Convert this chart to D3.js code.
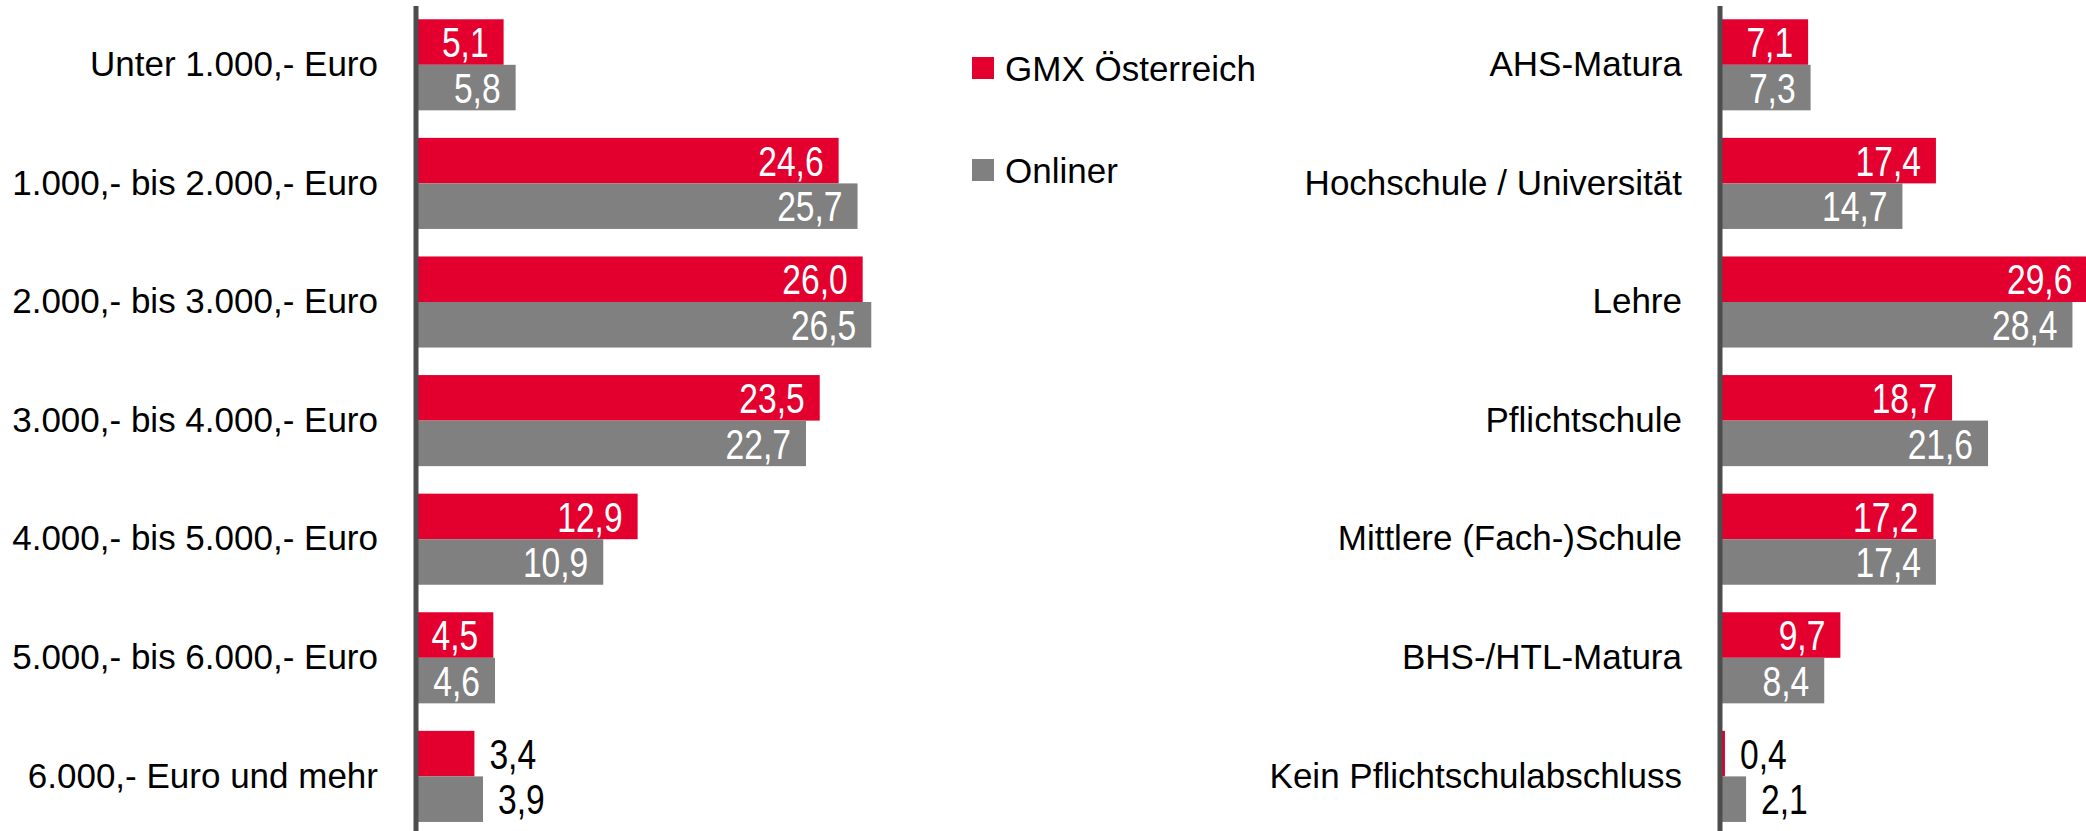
<!DOCTYPE html>
<html>
<head>
<meta charset="utf-8">
<script src="https://cdn.jsdelivr.net/npm/d3@7"></script>
<style>
    body { margin: 0; background: #fff; }
    svg { display: block; }
</style>
</head>
<body>
<div id="chart"></div>
<script>
// Series names and colours
const series = ['GMX Österreich', 'Onliner'];
const seriesColors = ['#E3002F', '#808080'];

// Left panel: net household income
const incomeCategories = [
    'Unter 1.000,- Euro',
    '1.000,- bis 2.000,- Euro',
    '2.000,- bis 3.000,- Euro',
    '3.000,- bis 4.000,- Euro',
    '4.000,- bis 5.000,- Euro',
    '5.000,- bis 6.000,- Euro',
    '6.000,- Euro und mehr'
];
const incomeGmx = [5.1, 24.6, 26.0, 23.5, 12.9, 4.5, 3.4];
const incomeOnliner = [5.8, 25.7, 26.5, 22.7, 10.9, 4.6, 3.9];

// Right panel: education
const eduCategories = [
    'AHS-Matura',
    'Hochschule / Universität',
    'Lehre',
    'Pflichtschule',
    'Mittlere (Fach-)Schule',
    'BHS-/HTL-Matura',
    'Kein Pflichtschulabschluss'
];
const eduGmx = [7.1, 17.4, 29.6, 18.7, 17.2, 9.7, 0.4];
const eduOnliner = [7.3, 14.7, 28.4, 21.6, 17.4, 8.4, 2.1];

const width = 2086;
const height = 831;

const svg = d3.select('#chart').append('svg')
    .attr('width', width)
    .attr('height', height);

const labelFont = '"Liberation Sans", Arial, sans-serif';
// no narrow font available, so value labels are Liberation Sans squeezed horizontally
const narrow = 0.8;

// Draw one panel of grouped horizontal bars
function drawPanel(categories, gmx, onliner, axisX, pxPerUnit) {
    const rows = categories.map((c, i) => ({ cat: c, values: [gmx[i], onliner[i]] }));

    const maxVal = d3.max(rows, r => d3.max(r.values));
    const x = d3.scaleLinear()
        .domain([0, maxVal])
        .range([axisX, axisX + maxVal * pxPerUnit]);

    const y = d3.scaleBand()
        .domain(categories)
        .range([5.5, 835.7])
        .paddingInner(0.232)
        .paddingOuter(0.116);

    const ySub = d3.scaleBand()
        .domain([0, 1])
        .range([0, y.bandwidth()])
        .padding(0);

    const g = svg.append('g');

    const groups = g.selectAll('.row')
        .data(rows)
        .enter().append('g')
        .attr('class', 'row')
        .attr('transform', d => `translate(0, ${y(d.cat)})`);

    const bars = groups.selectAll('.bar')
        .data(d => d.values.map((v, i) => ({ v: v, i: i })))
        .enter();

    bars.append('rect')
        .attr('x', x(0))
        .attr('y', d => ySub(d.i))
        .attr('width', d => x(d.v) - x(0))
        .attr('height', ySub.bandwidth())
        .attr('fill', d => seriesColors[d.i]);

    // Value labels: inside the bar in white, or outside in black if the bar is too short
    const inside = d => x(d.v) - x(0) > 70;
    bars.append('text')
        .attr('transform', d => {
            const tx = inside(d) ? x(d.v) - 15 : x(d.v) + 15;
            const ty = ySub(d.i) + ySub.bandwidth() / 2;
            return `translate(${tx}, ${ty}) scale(${narrow}, 1)`;
        })
        .attr('dy', '0.36em')
        .attr('text-anchor', d => inside(d) ? 'end' : 'start')
        .attr('fill', d => inside(d) ? '#fff' : '#000')
        .style('font-family', labelFont)
        .style('font-size', '42px')
        .text(d => d.v.toFixed(1).replace('.', ','));

    // Category axis (labels only)
    const axis = g.append('g')
        .attr('transform', `translate(${axisX - 38}, 0)`)
        .call(d3.axisLeft(y).tickSize(0).tickPadding(0));
    axis.select('.domain').remove();
    axis.selectAll('text')
        .style('font-family', labelFont)
        .style('font-size', '35px')
        .attr('fill', '#000');

    // Vertical baseline
    g.append('line')
        .attr('x1', axisX)
        .attr('x2', axisX)
        .attr('y1', 6)
        .attr('y2', height)
        .attr('stroke', '#4d4d4d')
        .attr('stroke-width', 5);
}

drawPanel(incomeCategories, incomeGmx, incomeOnliner, 416, 17.18);
drawPanel(eduCategories, eduGmx, eduOnliner, 1720, 12.41);

// Legend
const legend = svg.append('g')
    .attr('transform', 'translate(972, 57)');

const legendItems = legend.selectAll('.item')
    .data(series)
    .enter().append('g')
    .attr('class', 'item')
    .attr('transform', (d, i) => `translate(0, ${i * 102})`);

legendItems.append('rect')
    .attr('width', 22)
    .attr('height', 22)
    .attr('fill', (d, i) => seriesColors[i]);

legendItems.append('text')
    .attr('x', 33)
    .attr('y', 11)
    .attr('dy', '0.36em')
    .style('font-family', labelFont)
    .style('font-size', '35px')
    .text(d => d);
</script>
</body>
</html>
